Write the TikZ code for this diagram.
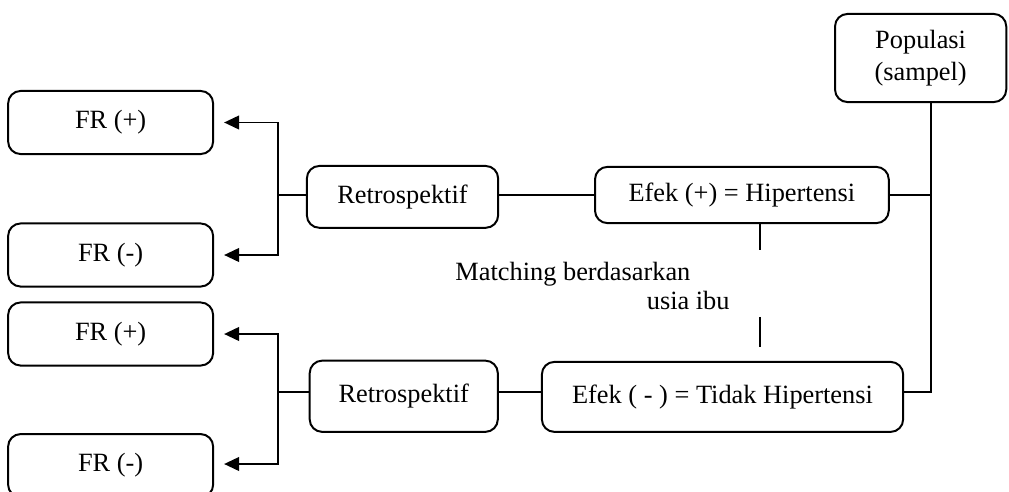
\documentclass[tikz,border=0pt]{standalone}
\usepackage{fontspec}
\setmainfont{Liberation Serif}
\usetikzlibrary{arrows.meta}

\begin{document}
\begin{tikzpicture}
	[%
	box/.style  ={rectangle,	draw=black,	line width=0.9pt,	rounded corners=2mm,	inner sep=0pt,	align=center},%
	link/.style ={draw=black,	line width=0.8pt},%
	arrow/.style={link,	-{Triangle[length=2.4mm,width=2.2mm]},	shorten >=1.6mm},%
	font=\fontsize{12}{14.5}\selectfont,%
	]

	\useasboundingbox (0,0) rectangle (16.144,-7.856);

	% nodes
	\node (pop)   at (14.73,-0.928) [box, minimum width=2.74cm, minimum height=1.41cm] {Populasi\\(sampel)};
	\node (efekp) at (11.87,-3.12)  [box, minimum width=4.70cm, minimum height=0.90cm] {Efek (+) = Hipertensi};
	\node (efekm) at (11.56,-6.35)  [box, minimum width=5.78cm, minimum height=1.12cm] {Efek ( - ) = Tidak Hipertensi};
	\node (ret1)  at (6.44,-3.15)   [box, minimum width=3.06cm, minimum height=0.99cm] {Retrospektif};
	\node (ret2)  at (6.46,-6.34)   [box, minimum width=3.01cm, minimum height=1.14cm] {Retrospektif};

	\foreach \n/\y/\t in {fr1p/-1.96/{FR (+)}, fr1m/-4.08/{FR (-)}, fr2p/-5.344/{FR (+)}, fr2m/-7.45/{FR (-)}}
		\node (\n) at (1.77,\y) [box, minimum width=3.28cm, minimum height=1.01cm] {\t};

	\node (match1) at (7.28,-4.48)   [anchor=base west, inner sep=0pt] {Matching berdasarkan};
	\node (match2) at (11.68,-4.944) [anchor=base east, inner sep=0pt] {usia ibu};

	\coordinate (tb)  at (14.90,-6.27);
	\coordinate (br1) at (4.45,-3.12);
	\coordinate (br2) at (4.45,-6.27);
	\coordinate (m1)  at (12.16,-4.00);
	\coordinate (m2)  at (12.16,-5.07);

	% interconnections
	\draw [link] (pop.south -| tb) -- (tb) -- (efekm.east |- tb);
	\draw [link] (efekp) -- (efekp -| tb);

	\draw [link] (ret1.east |- efekp) -- (efekp);
	\draw [link] (ret2.east |- tb) -- (efekm.west |- tb);

	\draw [link] (ret1.west |- br1) -- (br1);
	\draw [link] (ret2.west |- br2) -- (br2);

	\draw [arrow] (br1) |- (fr1p);
	\draw [arrow] (br1) |- (fr1m);
	\draw [arrow] (br2) |- (fr2p);
	\draw [arrow] (br2) |- (fr2m.east |- 0,-7.424);

	\draw [link] (efekp.south -| m1) -- (m1);
	\draw [link] (m2) -- ++(0,-0.48);

\end{tikzpicture}
\end{document}
